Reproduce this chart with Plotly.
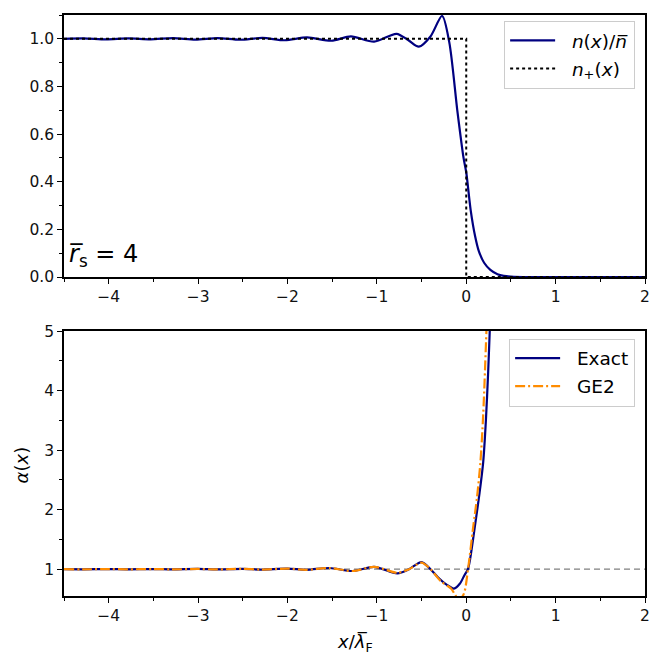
import plotly.graph_objects as go

# ---------------- data ----------------
# Top panel: normalized density n(x)/n̄
x_n = [-4.5, -4.28, -4.03, -3.78, -3.53, -3.28, -3.03, -2.78, -2.53, -2.28, -2.03,
       -1.78, -1.51, -1.29, -1.03, -0.78, -0.65, -0.53, -0.40, -0.27, -0.19, -0.10,
       -0.03, 0.0, 0.05, 0.10, 0.14, 0.20, 0.27, 0.35, 0.42, 0.50, 0.70, 1.0, 1.5, 2.0]
n_val = [1.0, 1.002, 0.998, 1.002, 0.998, 1.003, 0.997, 1.003, 0.996, 1.004, 0.994,
         1.006, 0.992, 1.010, 0.988, 1.021, 0.995, 0.967, 1.01, 1.096, 0.986, 0.70,
         0.50, 0.44, 0.28, 0.17, 0.11, 0.06, 0.03, 0.012, 0.005, 0.002, 0.0, 0.0, 0.0, 0.0]

# step profile n_+(x)
x_step = [-4.5, 0.0, 0.0, 2.0]
n_step = [1.0, 1.0, 0.0, 0.0]

# Bottom panel: alpha(x)
x_ex = [-4.5, -4.29, -4.0, -3.79, -3.5, -3.29, -3.0, -2.79, -2.5, -2.29, -2.0,
        -1.79, -1.53, -1.27, -1.03, -0.77, -0.64, -0.50, -0.40, -0.32, -0.22,
        -0.137, -0.07, -0.02, 0.019, 0.041, 0.096, 0.148, 0.19, 0.22, 0.245, 0.263, 0.28]
a_ex = [1.0, 0.998, 1.002, 0.998, 1.003, 0.997, 1.004, 0.996, 1.006, 0.994, 1.01,
        0.99, 1.02, 0.97, 1.04, 0.93, 1.0, 1.12, 1.0, 0.87, 0.74,
        0.675, 0.76, 0.90, 1.0, 1.15, 1.71, 2.27, 2.8, 3.5, 4.3, 5.0, 5.7]

x_ge = [-4.5, -4.29, -4.0, -3.79, -3.5, -3.29, -3.0, -2.79, -2.5, -2.29, -2.0,
        -1.79, -1.53, -1.27, -1.03, -0.77, -0.64, -0.50, -0.40, -0.285, -0.17,
        -0.12, -0.08, -0.026, 0.02, 0.078, 0.12, 0.159, 0.19, 0.226, 0.24]
a_ge = [1.0, 0.998, 1.002, 0.998, 1.003, 0.997, 1.004, 0.996, 1.006, 0.994, 1.01,
        0.99, 1.02, 0.97, 1.04, 0.94, 1.0, 1.11, 1.0, 0.80, 0.675,
        0.56, 0.48, 0.59, 1.0, 1.71, 2.2, 2.8, 3.6, 5.0, 5.6]

x_ref = [-4.5, 2.0]
a_ref = [1.0, 1.0]

# tick values
x_ticks = [-4, -3, -2, -1, 0, 1, 2]
y1_ticks = [0.0, 0.2, 0.4, 0.6, 0.8, 1.0]
y2_ticks = [1, 2, 3, 4, 5]

# ---------------- figure ----------------
NAVY = "#000080"
ORANGE = "#FF8C00"
FONT = "DejaVu Sans"
PAD = "\u00a0\u00a0"

fig = go.Figure()

fig.add_trace(go.Scatter(x=x_n, y=n_val, mode="lines",
                         line=dict(color=NAVY, width=2.2, shape="spline", smoothing=0.8),
                         name=PAD + "<i>n</i>(<i>x</i>)/<i>n̅</i>", xaxis="x", yaxis="y",
                         legend="legend", legendgroup="a"))
fig.add_trace(go.Scatter(x=x_step, y=n_step, mode="lines",
                         line=dict(color="black", width=2, dash="dot"),
                         name=PAD + "<i>n</i><sub>+</sub>(<i>x</i>)", xaxis="x", yaxis="y",
                         legend="legend", legendgroup="b"))

fig.add_trace(go.Scatter(x=x_ref, y=a_ref, mode="lines",
                         line=dict(color="gray", width=1.2, dash="6px,4px"),
                         showlegend=False, xaxis="x2", yaxis="y2", hoverinfo="skip"))
fig.add_trace(go.Scatter(x=x_ex, y=a_ex, mode="lines",
                         line=dict(color=NAVY, width=2.2, shape="spline", smoothing=0.8),
                         name=PAD + "Exact", xaxis="x2", yaxis="y2", legend="legend2",
                         legendgroup="c"))
fig.add_trace(go.Scatter(x=x_ge, y=a_ge, mode="lines",
                         line=dict(color=ORANGE, width=2.2, shape="spline", smoothing=0.8,
                                   dash="10px,3px,2px,3px"),
                         name=PAD + "GE2", xaxis="x2", yaxis="y2", legend="legend2",
                         legendgroup="d"))

axis_common = dict(showline=True, linecolor="black", linewidth=1.5, mirror=True,
                   ticks="outside", ticklen=5, tickwidth=1.3, tickcolor="black",
                   showgrid=False, zeroline=False, ticklabeloverflow="allow",
                   tickfont=dict(family=FONT, size=15.5, color="#111"))
minor_x = dict(dtick=0.5, tick0=0, ticks="outside", ticklen=3, tickcolor="black")
XRANGE = [-4.5, 2.0]

fig.update_layout(
    width=655, height=656,
    margin=dict(l=64, r=5, t=15, b=60),
    paper_bgcolor="white", plot_bgcolor="white",
    font=dict(family=FONT, size=15, color="black"),
    xaxis=dict(domain=[0, 1], range=XRANGE, anchor="y", tickmode="array",
               tickvals=x_ticks, minor=minor_x, **axis_common),
    yaxis=dict(domain=[0.549, 1], range=[0, 1.1], anchor="x", tickmode="array",
               tickvals=y1_ticks, tickformat=".1f",
               minor=dict(dtick=0.1, tick0=0, ticks="outside", ticklen=3, tickcolor="black"),
               **axis_common),
    xaxis2=dict(domain=[0, 1], range=XRANGE, anchor="y2", tickmode="array",
                tickvals=x_ticks, minor=minor_x, **axis_common),
    yaxis2=dict(domain=[0, 0.456], range=[0.55, 5], anchor="x2", tickmode="array",
                tickvals=y2_ticks,
                minor=dict(dtick=0.5, tick0=0, ticks="outside", ticklen=3, tickcolor="black"),
                **axis_common),
    legend=dict(x=0.983, y=0.99, xanchor="right", yanchor="top",
                bgcolor="white", bordercolor="#cccccc", borderwidth=1,
                traceorder="grouped", tracegroupgap=1, itemwidth=45,
                font=dict(family=FONT, size=18.5, color="black")),
    legend2=dict(x=0.983, y=0.443, xanchor="right", yanchor="top",
                 bgcolor="white", bordercolor="#cccccc", borderwidth=1,
                 traceorder="grouped", tracegroupgap=1, itemwidth=45,
                 font=dict(family=FONT, size=18.5, color="black")),
    annotations=[
        dict(text="<i>r̅</i><sub>s</sub> = 4", xref="x domain", yref="y domain",
             x=0.005, y=0.015, xanchor="left", yanchor="bottom", showarrow=False,
             font=dict(family=FONT, size=24, color="black")),
        dict(text="<i>x</i>/<i>λ̅</i><sub>F</sub>", xref="paper", yref="paper",
             x=0.5, y=-0.081, xanchor="center", yanchor="middle", showarrow=False,
             font=dict(family=FONT, size=18, color="black")),
        dict(text="<i>α</i>(<i>x</i>)", xref="paper", yref="paper",
             x=-0.0716, y=0.2255, xanchor="center", yanchor="middle", showarrow=False,
             textangle=-90, font=dict(family=FONT, size=18, color="black")),
    ],
)

fig.write_html("out.html",
               config={"displayModeBar": False},
               post_script="document.body.style.margin='0';document.body.style.overflow='hidden';")
